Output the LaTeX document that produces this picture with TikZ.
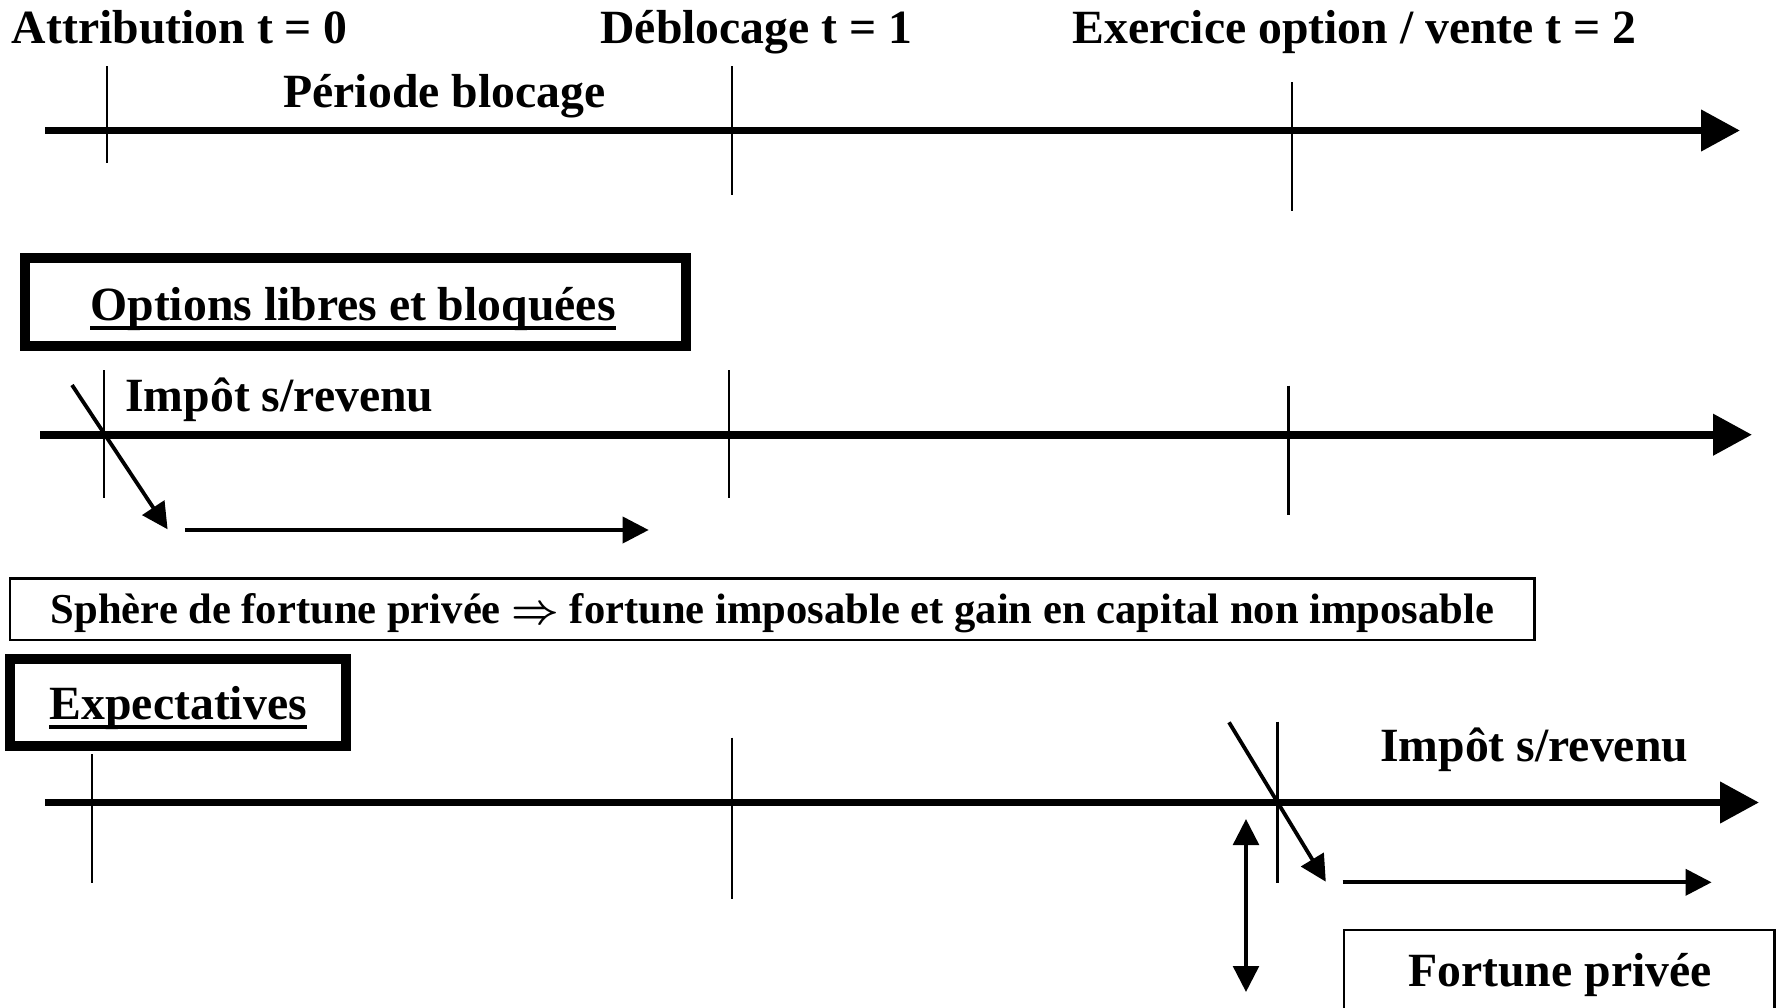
\documentclass[tikz,border=0pt]{standalone}
\usepackage{fontspec}
\setmainfont{Liberation Serif}
\usetikzlibrary{arrows.meta}

\begin{document}
\begin{tikzpicture}[x=0.5pt,y=-0.5pt,
  lbl/.style={anchor=base west,inner sep=0pt,font=\fontsize{23.85}{28}\selectfont\bfseries},
  smalllbl/.style={anchor=base west,inner sep=0pt,font=\fontsize{21.3}{25}\selectfont\bfseries},
  axis/.style={line width=3.8pt,-{Triangle[length=19.5pt,width=20pt]}},
  tickmark/.style={line width=1.15pt},
  thinarrow/.style={line width=1.9pt,-{Triangle[length=13pt,width=13pt]}},
  twoway/.style={line width=1.9pt,{Triangle[length=13pt,width=12.8pt]}-{Triangle[length=13pt,width=12.8pt]}},
  heavybox/.style={draw,line width=5pt,inner sep=0pt},
  lightbox/.style={draw,line width=1.25pt,inner sep=0pt},
  uline/.style={line width=2pt}
]
\useasboundingbox (0,0) rectangle (1778,1007);
\fill[white] (0,0) rectangle (1778,1007);
\clip (0,0) rectangle (1778,1007);

% ---------- time headings ----------
\node[lbl] (tzero) at (11.5,43) {Attribution t = 0};
\node[lbl] (tone) at (600,43) {Déblocage t = 1};
\node[lbl] (ttwo) at (1072,43) {Exercice option / vente t = 2};
\node[lbl] (periode) at (283,107) {Période blocage};

% ---------- first time line ----------
\coordinate (a1s) at (45,130.5);
\coordinate (a1e) at (1740,130.5);
\draw[axis] (a1s) -- (a1e);
\draw[tickmark] (107,66) -- (107,163);
\draw[tickmark] (732,66) -- (732,195);
\draw[tickmark] (1292,82) -- (1292,211);

% ---------- options libres et bloquées ----------
\node[heavybox,minimum width=330.75pt,minimum height=43.85pt] (optbox) at (355.25,302.15) {};
\node[lbl] (opt) at (90,320) {Options libres et bloquées};
\draw[uline] ([yshift=-4pt]opt.base west) -- ([yshift=-4pt]opt.base east);

\node[lbl] (imp1) at (125,411) {Impôt s/revenu};
\coordinate (a2s) at (40,434.7);
\coordinate (a2e) at (1752,434.7);
\draw[axis] (a2s) -- (a2e);
\draw[tickmark] (104,370) -- (104,498);
\draw[tickmark] (729,370) -- (729,498);
\draw[tickmark] (1288.6,385.7) -- (1288.6,515);

\coordinate (d1s) at (72,385);
\coordinate (d1e) at (167.6,529.3);
\draw[thinarrow] (d1s) -- (d1e);
\coordinate (h1s) at (185,530);
\coordinate (h1e) at (648.7,530);
\draw[thinarrow] (h1s) -- (h1e);

% ---------- sphère de fortune privée ----------
\node[lightbox,minimum width=762.15pt,minimum height=30.65pt] (sphbox) at (772.15,609.35) {};
\node[smalllbl] (sph) at (50.5,623.3) {Sphère de fortune privée {\boldmath$\Rightarrow$} fortune imposable et gain en capital non imposable};

% ---------- expectatives ----------
\node[heavybox,minimum width=168pt,minimum height=43.8pt] (expbox) at (178,702.5) {};
\node[lbl] (exp) at (49.4,719.3) {Expectatives};
\draw[uline] ([yshift=-4pt]exp.base west) -- ([yshift=-4pt]exp.base east);

\node[lbl] (imp2) at (1379.8,761.7) {Impôt s/revenu};
\coordinate (a3s) at (44.8,802.5);
\coordinate (a3e) at (1759,802.5);
\draw[axis] (a3s) -- (a3e);
\draw[tickmark] (91.8,754) -- (91.8,883.3);
\draw[tickmark] (732,737.7) -- (732,899.3);
\draw[tickmark] (1277.4,721.7) -- (1277.4,883.3);

\coordinate (d2s) at (1229,722.3);
\coordinate (d2e) at (1325.8,881.7);
\draw[thinarrow] (d2s) -- (d2e);
\coordinate (h2s) at (1342.6,882.3);
\coordinate (h2e) at (1711.6,882.3);
\draw[thinarrow] (h2s) -- (h2e);

\coordinate (vup) at (1246,819);
\coordinate (vdown) at (1246,992);
\draw[twoway] (vup) -- (vdown);

% ---------- fortune privée ----------
\node[lightbox,minimum width=215.35pt,minimum height=54.9pt] (fortbox) at (1559.15,985.1) {};
\node[lbl] (fort) at (1408,986.7) {Fortune privée};
\end{tikzpicture}
\end{document}
